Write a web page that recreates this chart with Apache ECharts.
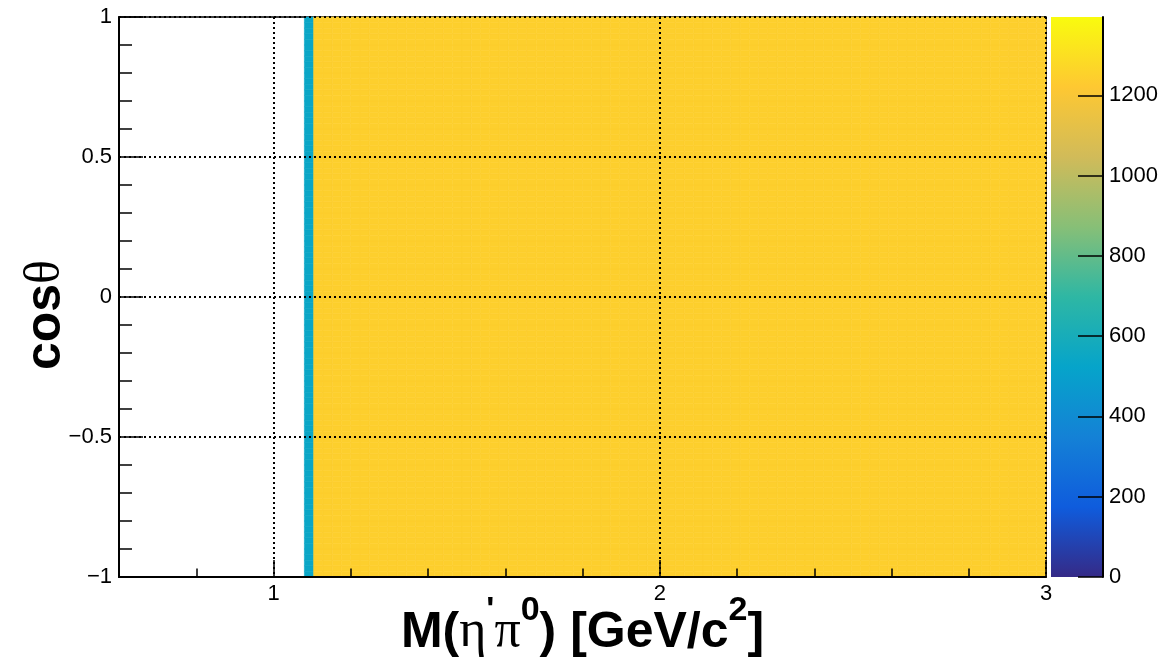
<!DOCTYPE html>
<html>
<head>
<meta charset="utf-8">
<title>M(η'π0) vs cosθ</title>
<script src="https://cdn.jsdelivr.net/npm/echarts@6/dist/echarts.min.js"></script>
<style>
  html, body { margin: 0; padding: 0; background: #ffffff; }
  #chart { width: 1170px; height: 667px; }
</style>
</head>
<body>
<div id="chart"></div>
<script>
// Binning of the 2D histogram: invariant mass on x, cos(theta) on y
const massRange = [0.6, 3.0];
const massBinCount = 100;
const cosRange = [-1, 1];
const cosBinCount = 100;

// Entries per cell for each mass bin (flat along cos(theta));
// bins below the eta' pi0 threshold are empty
const countsPerMassBin = [
  0, 0, 0, 0, 0, 0, 0, 0, 0, 0,
  0, 0, 0, 0, 0, 0, 0, 0, 0, 0,
  540, 1245, 1245, 1245, 1245, 1245, 1245, 1245, 1245, 1245,
  1245, 1245, 1245, 1245, 1245, 1245, 1245, 1245, 1245, 1245,
  1245, 1245, 1245, 1245, 1245, 1245, 1245, 1245, 1245, 1245,
  1245, 1245, 1245, 1245, 1245, 1245, 1245, 1245, 1245, 1245,
  1245, 1245, 1245, 1245, 1245, 1245, 1245, 1245, 1245, 1245,
  1245, 1245, 1245, 1245, 1245, 1245, 1245, 1245, 1245, 1245,
  1245, 1245, 1245, 1245, 1245, 1245, 1245, 1245, 1245, 1245,
  1245, 1245, 1245, 1245, 1245, 1245, 1245, 1245, 1245, 1245
];

// Colour scale range
const zMin = 0;
const zMax = 1395;

// Axis ticks
const massMajorTicks = [1, 2, 3];
const massMinorTicks = [0.8, 1.2, 1.4, 1.6, 1.8, 2.2, 2.4, 2.6, 2.8];
const cosMajorTicks = [-1, -0.5, 0, 0.5, 1];
const cosMinorTicks = [-0.9, -0.8, -0.7, -0.6, -0.4, -0.3, -0.2, -0.1,
                       0.1, 0.2, 0.3, 0.4, 0.6, 0.7, 0.8, 0.9];
const zTicks = [0, 200, 400, 600, 800, 1000, 1200];

// "Bird" palette stops
const birdPalette = ['#352A87', '#0F5CDD', '#1481D6', '#06A4CA', '#2EB7A4',
                     '#87BF77', '#D1BB59', '#FEC832', '#F9FB0E'];

// Build one record per filled cell: [xLow, xHigh, yLow, yHigh, count]
const cells = [];
const dx = (massRange[1] - massRange[0]) / massBinCount;
const dy = (cosRange[1] - cosRange[0]) / cosBinCount;
for (let i = 0; i < massBinCount; i++) {
  const c = countsPerMassBin[i];
  if (!c) continue;
  const x0 = massRange[0] + i * dx;
  for (let j = 0; j < cosBinCount; j++) {
    const y0 = cosRange[0] + j * dy;
    cells.push([x0, x0 + dx, y0, y0 + dy, c]);
  }
}

const sansBold = 'Liberation Sans, Arial, Helvetica, sans-serif';
const greekFont = 'Liberation Serif, DejaVu Serif, Times New Roman, serif';
const minus = v => (v < 0 ? '\u2212' + Math.abs(v) : String(v));

const chart = echarts.init(document.getElementById('chart'), null, { renderer: 'canvas' });

const option = {
  animation: false,
  backgroundColor: '#ffffff',
  grid: [
    { left: 119, top: 17, width: 927, height: 560, show: true, containLabel: false,
      outerBoundsMode: 'none',
      borderColor: '#000', borderWidth: 1.5, backgroundColor: 'transparent' },
    { left: 1051, top: 17, width: 52, height: 560, show: false, containLabel: false,
      outerBoundsMode: 'none' }
  ],
  xAxis: [
    {
      gridIndex: 0, type: 'value', min: massRange[0], max: massRange[1], z: 10,
      position: 'bottom',
      axisLine: { show: true, onZero: false, lineStyle: { color: '#000', width: 2 } },
      axisTick: { show: true, inside: true, length: 17, customValues: massMajorTicks,
                  lineStyle: { color: '#000', width: 1.5 } },
      axisLabel: { show: true, customValues: massMajorTicks, fontSize: 22, color: '#000',
                   fontFamily: sansBold, margin: 6 },
      splitLine: { show: true, lineStyle: { color: '#000', width: 2, type: [2, 3] } },
      name: '{b|M(}{g|η}{sp|\'}{g|π}{sp|0}{b|) [GeV/c}{sp|2}{b|]}',
      nameLocation: 'middle',
      nameGap: 21,
      nameMoveOverlap: false,
      nameTextStyle: {
        rich: {
          b:  { fontFamily: sansBold, fontWeight: 'bold', fontSize: 50, lineHeight: 60,
                color: '#000', verticalAlign: 'bottom' },
          g:  { fontFamily: greekFont, fontWeight: 'normal', fontSize: 52, lineHeight: 60,
                color: '#000', verticalAlign: 'bottom' },
          sp: { fontFamily: sansBold, fontWeight: 'bold', fontSize: 34, lineHeight: 36,
                color: '#000', verticalAlign: 'bottom', padding: [0, 0, 30, 0] }
        }
      }
    },
    {
      gridIndex: 0, type: 'value', min: massRange[0], max: massRange[1], z: 10,
      position: 'bottom',
      axisLine: { show: false, onZero: false },
      axisTick: { show: true, inside: true, length: 8.5, customValues: massMinorTicks,
                  lineStyle: { color: '#000', width: 1.5 } },
      axisLabel: { show: false },
      splitLine: { show: false }
    },
    { gridIndex: 1, type: 'value', min: 0, max: 1, show: false,
      axisLine: { onZero: false } }
  ],
  yAxis: [
    {
      gridIndex: 0, type: 'value', min: cosRange[0], max: cosRange[1], z: 10,
      position: 'left',
      axisLine: { show: true, onZero: false, lineStyle: { color: '#000', width: 2 } },
      axisTick: { show: true, inside: true, length: 24, customValues: cosMajorTicks,
                  lineStyle: { color: '#000', width: 1.5 } },
      axisLabel: { show: true, customValues: cosMajorTicks, fontSize: 22, color: '#000',
                   fontFamily: sansBold, margin: 7, formatter: minus },
      splitLine: { show: true, lineStyle: { color: '#000', width: 2, type: [2, 3] } },
      name: '{b|cos}{g|θ}',
      nameLocation: 'middle',
      nameRotate: 90,
      nameGap: 46,
      nameMoveOverlap: false,
      nameTextStyle: {
        padding: [0, 36, 0, 0],
        rich: {
          b: { fontFamily: sansBold, fontWeight: 'bold', fontSize: 50, lineHeight: 54, color: '#000' },
          g: { fontFamily: greekFont, fontWeight: 'normal', fontSize: 50, lineHeight: 54, color: '#000' }
        }
      }
    },
    {
      gridIndex: 0, type: 'value', min: cosRange[0], max: cosRange[1], z: 10,
      position: 'left',
      axisLine: { show: false, onZero: false },
      axisTick: { show: true, inside: true, length: 13, customValues: cosMinorTicks,
                  lineStyle: { color: '#000', width: 1.5 } },
      axisLabel: { show: false },
      splitLine: { show: false }
    },
    {
      gridIndex: 1, type: 'value', min: zMin, max: zMax, position: 'right', z: 10,
      axisLine: { show: true, onZero: false, lineStyle: { color: '#000', width: 2 } },
      axisTick: { show: true, inside: true, length: 25, customValues: zTicks,
                  lineStyle: { color: '#000', width: 1.5 } },
      axisLabel: { show: true, customValues: zTicks, fontSize: 22, color: '#000',
                   fontFamily: sansBold, margin: 6, formatter: v => String(v) },
      splitLine: { show: false }
    }
  ],
  visualMap: {
    type: 'continuous',
    show: false,
    min: zMin,
    max: zMax,
    dimension: 4,
    seriesIndex: 0,
    inRange: { color: birdPalette }
  },
  series: [
    {
      // histogram cells
      type: 'custom',
      xAxisIndex: 0,
      yAxisIndex: 0,
      progressive: 0,
      dimensions: ['xLow', 'xHigh', 'yLow', 'yHigh', 'count'],
      encode: { x: [0, 1], y: [2, 3] },
      data: cells,
      renderItem: function (params, api) {
        const p0 = api.coord([api.value(0), api.value(2)]);
        const p1 = api.coord([api.value(1), api.value(3)]);
        const color = api.visual('color');
        return {
          type: 'rect',
          shape: { x: p0[0], y: p1[1], width: p1[0] - p0[0], height: p0[1] - p1[1] },
          style: { fill: color, stroke: color, lineWidth: 0.6 }
        };
      }
    },
    {
      // colour scale bar
      type: 'custom',
      xAxisIndex: 2,
      yAxisIndex: 2,
      data: [[zMin, zMax]],
      renderItem: function (params, api) {
        const lo = api.coord([0, api.value(0)]);
        const hi = api.coord([1, api.value(1)]);
        const stops = birdPalette.map((c, k) => ({ offset: k / (birdPalette.length - 1), color: c }));
        return {
          type: 'rect',
          shape: { x: lo[0], y: hi[1], width: hi[0] - lo[0], height: lo[1] - hi[1] },
          style: { fill: new echarts.graphic.LinearGradient(0, 1, 0, 0, stops) }
        };
      }
    }
  ]
};

chart.setOption(option);
</script>
</body>
</html>
